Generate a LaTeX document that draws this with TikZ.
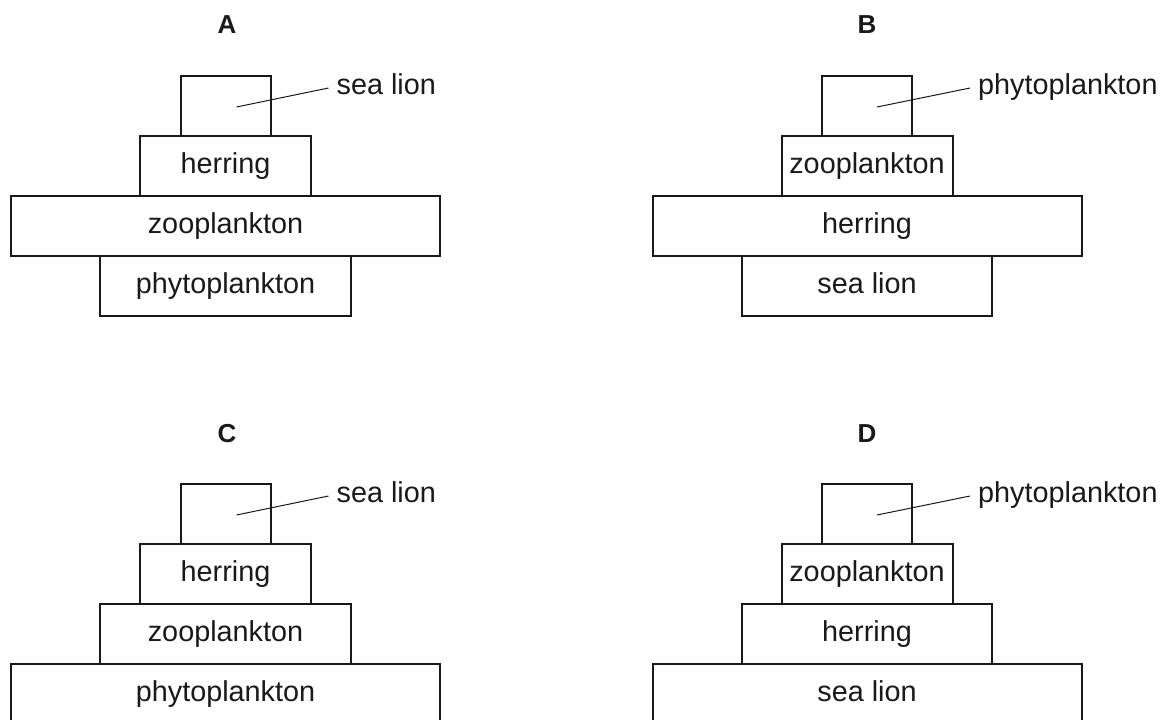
\documentclass[tikz,border=0pt]{standalone}
\usepackage{fontspec}
\setmainfont{Liberation Sans}
\usetikzlibrary{positioning}

\begin{document}
\begin{tikzpicture}[x=1pt, y=-1pt, node distance=0pt,
    layer/.style={draw=black!90, line width=2pt, outer sep=0pt, inner sep=2pt,
      minimum height=60pt, text height=21pt, text depth=6pt,
      font=\fontsize{28.8}{34}\selectfont, text=black!90},
    tag/.style={anchor=west, inner xsep=8pt, inner ysep=0pt,
      text height=18pt, text depth=6pt, font=\fontsize{28.8}{34}\selectfont, text=black!90},
    leader/.style={draw=black!90, line width=1pt},
    title/.style={font=\bfseries\fontsize{26}{31}\selectfont, text=black!90}]

    \useasboundingbox (0,0) rectangle (1163,720);

    % A
    \node[title] (tA) at (227,25) {A};
    \node[layer, minimum width=251pt] (a1) at (225.5,286) {phytoplankton};
    \node[layer, minimum width=429pt] (a2) [above=of a1] {zooplankton};
    \node[layer, minimum width=171pt] (a3) [above=of a2] {herring};
    \node[layer, minimum width=90pt]  (a4) [above=of a3] {};
    \coordinate (a4tip) at ([xshift=11pt,yshift=-1pt]a4.center);
    \node[tag] (a4lbl) at ([xshift=58pt,yshift=-12pt]a4.north east) {sea lion};
    \draw[leader] (a4tip) -- (a4lbl.west);

    % B
    \node[title] (tB) at (867,25) {B};
    \node[layer, minimum width=250pt] (b1) at (867,286) {sea lion};
    \node[layer, minimum width=429pt] (b2) [above=of b1] {herring};
    \node[layer, minimum width=171pt] (b3) [above=of b2] {zooplankton};
    \node[layer, minimum width=90pt]  (b4) [above=of b3] {};
    \coordinate (b4tip) at ([xshift=10pt,yshift=-1pt]b4.center);
    \node[tag] (b4lbl) at ([xshift=58pt,yshift=-12pt]b4.north east) {phytoplankton};
    \draw[leader] (b4tip) -- (b4lbl.west);

    % C
    \node[title] (tC) at (227,434) {C};
    \node[layer, minimum width=429pt] (c1) at (225.5,694) {phytoplankton};
    \node[layer, minimum width=251pt] (c2) [above=of c1] {zooplankton};
    \node[layer, minimum width=171pt] (c3) [above=of c2] {herring};
    \node[layer, minimum width=90pt]  (c4) [above=of c3] {};
    \coordinate (c4tip) at ([xshift=11pt,yshift=-1pt]c4.center);
    \node[tag] (c4lbl) at ([xshift=58pt,yshift=-12pt]c4.north east) {sea lion};
    \draw[leader] (c4tip) -- (c4lbl.west);

    % D
    \node[title] (tD) at (867,434) {D};
    \node[layer, minimum width=429pt] (d1) at (867,694) {sea lion};
    \node[layer, minimum width=250pt] (d2) [above=of d1] {herring};
    \node[layer, minimum width=171pt] (d3) [above=of d2] {zooplankton};
    \node[layer, minimum width=90pt]  (d4) [above=of d3] {};
    \coordinate (d4tip) at ([xshift=10pt,yshift=-1pt]d4.center);
    \node[tag] (d4lbl) at ([xshift=58pt,yshift=-12pt]d4.north east) {phytoplankton};
    \draw[leader] (d4tip) -- (d4lbl.west);

\end{tikzpicture}
\end{document}
